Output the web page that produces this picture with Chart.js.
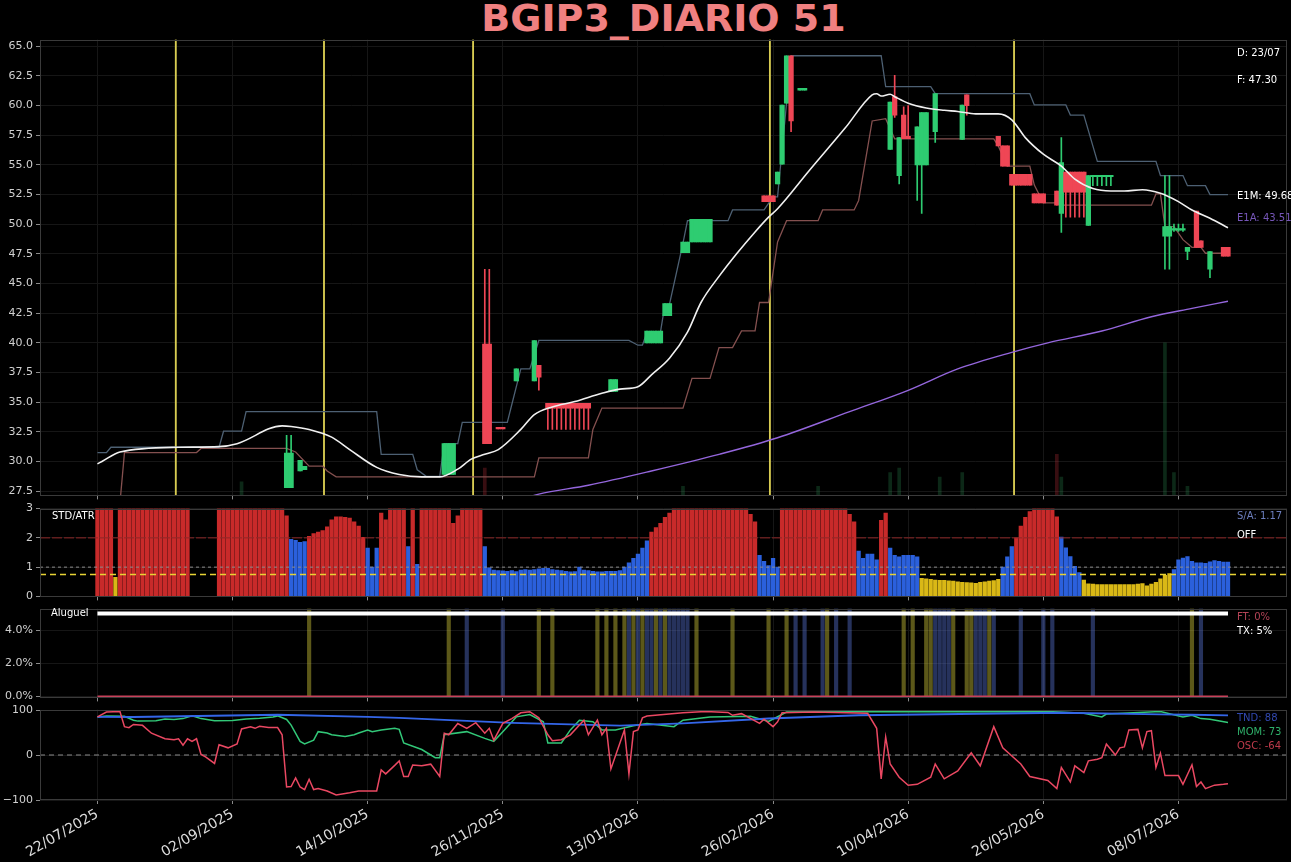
<!DOCTYPE html>
<html>
<head>
<meta charset="utf-8">
<script src="https://cdn.jsdelivr.net/npm/chart.js@4.4.1/dist/chart.umd.min.js"></script>
<style>
  body { margin: 0; background: #000; width: 1291px; height: 862px; overflow: hidden; position: relative; font-family: 'DejaVu Sans', sans-serif; }
  canvas { position: absolute; left: 0; }
  .t { position: absolute; font-size: 10px; color: #fff; white-space: nowrap; line-height: 12px; }
  #title { position: absolute; left: 40px; width: 1247px; top: -2px; text-align: center; font-weight: bold; font-size: 38px; line-height: 40px; color: #f08080; }
</style>
</head>
<body>
<div id="title">BGIP3_DIARIO 51</div>
<canvas id="cMain" width="1291" height="475" style="top:30px"></canvas>
<canvas id="cStd" width="1291" height="107" style="top:499px"></canvas>
<canvas id="cAlu" width="1291" height="108" style="top:599px"></canvas>
<canvas id="cOsc" width="1291" height="162" style="top:700px"></canvas>

<div class="t" style="left:1237px;top:47px">D: 23/07</div>
<div class="t" style="left:1237px;top:74px">F: 47.30</div>
<div class="t" style="left:1237px;top:190px">E1M: 49.68</div>
<div class="t" style="left:1237px;top:212px;color:#7656b8">E1A: 43.51</div>
<div class="t" style="left:52px;top:510px">STD/ATR</div>
<div class="t" style="left:1237px;top:510px;color:#6d7fbf">S/A: 1.17</div>
<div class="t" style="left:1237px;top:529px">OFF</div>
<div class="t" style="left:51px;top:607px">Aluguel</div>
<div class="t" style="left:1237px;top:611px;color:#b44457">FT: 0%</div>
<div class="t" style="left:1237px;top:625px">TX: 5%</div>
<div class="t" style="left:1237px;top:712px;color:#3148b0">TND: 88</div>
<div class="t" style="left:1237px;top:726px;color:#2fb06a">MOM: 73</div>
<div class="t" style="left:1237px;top:740px;color:#bd3a4a">OSC: -64</div>

<script>
// ---- x axis (trading-day index) ----
const X_MIN = -12.75, X_MAX = 264.1;
const xTickIdx = [0, 30, 60, 90, 120, 150, 180, 210, 240];
const xTickLabels = ['22/07/2025', '02/09/2025', '14/10/2025', '26/11/2025', '13/01/2026',
                     '26/02/2026', '10/04/2026', '26/05/2026', '08/07/2026'];

// ---- main panel ----
const MAIN_MIN = 27.14, MAIN_MAX = 65.56;
const mainTicks = [27.5, 30, 32.5, 35, 37.5, 40, 42.5, 45, 47.5, 50, 52.5, 55, 57.5, 60, 62.5, 65];

const candleIdx   = [42, 43, 45, 46, 77, 78, 79, 86, 87, 89, 90, 93, 97, 98,
                     100, 101, 102, 103, 104, 105, 106, 107, 108, 109, 114, 115,
                     122, 123, 124, 125, 126, 127, 130, 131, 132, 133, 134, 135, 136,
                     148, 149, 150, 151, 152, 153, 154, 156, 157,
                     176, 177, 178, 179, 180, 182, 183, 184, 186, 192, 193,
                     200, 201, 202, 203, 204, 205, 206, 207, 208, 209, 210, 213, 214,
                     215, 216, 217, 218, 219, 220, 221, 222, 223, 224, 225,
                     237, 238, 239, 240, 241, 242, 244, 245, 247, 250, 251];
const candleOpen  = [27.8, 27.8, 29.2, 29.3, 28.9, 28.9, 28.9, 39.9, 39.9, 32.85, 32.85, 36.8, 36.8, 38.1,
                     34.9, 34.9, 34.9, 34.9, 34.9, 34.9, 34.9, 34.9, 34.9, 34.9, 35.9, 35.9,
                     40.0, 40.0, 40.0, 40.0, 42.3, 42.3, 47.6, 47.6, 48.5, 48.5, 48.5, 48.5, 48.5,
                     52.4, 52.4, 52.4, 53.4, 55.05, 60.2, 64.2, 61.3, 61.3,
                     56.3, 60.75, 54.1, 59.2, 57.4, 55.0, 55.0, 55.0, 57.8, 57.15, 60.9,
                     57.4, 56.6, 56.6, 54.2, 54.2, 54.2, 54.2, 54.2, 52.55, 52.55, 52.55, 52.8, 50.9,
                     54.4, 54.4, 54.4, 54.4, 54.4, 49.9, 54.0, 54.0, 54.0, 54.0, 54.0,
                     49.0, 49.0, 49.5, 49.5, 49.5, 47.7, 51.1, 48.6, 46.2, 48.05, 48.05];
const candleHigh  = [32.2, 32.2, 30.1, 29.6, 31.5, 31.5, 31.5, 46.2, 46.2, 32.85, 32.85, 37.8, 40.2, 38.1,
                     34.9, 34.9, 34.9, 34.9, 34.9, 34.9, 34.9, 34.9, 34.9, 34.9, 36.9, 36.9,
                     41.0, 41.0, 41.0, 41.0, 43.3, 43.3, 48.5, 48.5, 50.4, 50.4, 50.4, 50.4, 50.4,
                     52.4, 52.4, 52.4, 54.4, 60.05, 64.2, 64.2, 61.45, 61.45,
                     60.3, 62.55, 57.3, 59.9, 60.0, 58.2, 59.4, 59.4, 61.0, 60.05, 60.9,
                     57.4, 56.6, 56.6, 54.2, 54.2, 54.2, 54.2, 54.2, 52.55, 52.55, 52.55, 52.8, 57.3,
                     54.4, 54.4, 54.4, 54.4, 54.4, 54.1, 54.1, 54.1, 54.1, 54.1, 54.1,
                     54.1, 54.1, 50.0, 50.0, 50.0, 48.05, 51.1, 48.6, 47.7, 48.05, 48.05];
const candleLow   = [27.8, 27.8, 29.2, 29.3, 28.9, 28.9, 28.9, 31.5, 31.5, 32.75, 32.75, 36.8, 36.8, 36.0,
                     32.7, 32.7, 32.7, 32.7, 32.7, 32.7, 32.7, 32.7, 32.7, 32.7, 35.9, 35.9,
                     40.0, 40.0, 40.0, 40.0, 42.3, 42.3, 47.6, 47.6, 48.5, 48.5, 48.5, 48.5, 48.5,
                     51.9, 51.9, 51.9, 53.4, 55.05, 60.2, 57.8, 61.3, 61.3,
                     56.3, 59.0, 53.4, 57.2, 57.2, 52.0, 50.9, 55.0, 56.9, 57.15, 59.2,
                     56.6, 54.9, 54.9, 53.3, 53.3, 53.3, 53.3, 53.3, 51.8, 51.8, 51.8, 51.6, 49.3,
                     50.6, 50.6, 50.6, 50.6, 50.6, 49.9, 53.25, 53.25, 53.25, 53.25, 53.25,
                     46.2, 46.2, 49.4, 49.4, 49.4, 47.0, 48.05, 48.05, 45.5, 47.3, 47.3];
const candleClose = [30.7, 30.7, 30.1, 29.6, 31.5, 31.5, 31.5, 31.5, 31.5, 32.75, 32.75, 37.8, 40.2, 37.1,
                     34.5, 34.5, 34.5, 34.5, 34.5, 34.5, 34.5, 34.5, 34.5, 34.5, 36.9, 36.9,
                     41.0, 41.0, 41.0, 41.0, 43.3, 43.3, 48.5, 48.5, 50.4, 50.4, 50.4, 50.4, 50.4,
                     51.9, 51.9, 51.9, 54.4, 60.05, 64.2, 58.7, 61.45, 61.45,
                     60.3, 59.2, 57.3, 57.2, 57.2, 58.2, 59.4, 59.4, 61.0, 60.05, 60.0,
                     56.6, 54.9, 54.9, 53.3, 53.3, 53.3, 53.3, 53.3, 51.8, 51.8, 51.8, 51.6, 55.2,
                     52.7, 52.7, 52.7, 52.7, 52.7, 54.1, 54.05, 54.05, 54.05, 54.05, 54.05,
                     49.8, 49.8, 49.55, 49.55, 49.55, 48.05, 48.05, 48.05, 47.7, 47.3, 47.3];

const upIdx = [0, 2, 3, 27, 28, 32, 33, 62, 63, 70, 71, 73, 76, 77, 80, 81, 91, 92, 94, 96,
               98, 118, 120, 121, 122, 125, 126, 127, 130, 131, 140, 141, 148, 150, 151, 154, 174, 175, 185, 186,
               207, 208, 215, 216, 219, 222, 235, 236, 241, 242, 246, 247, 251];
const upVal = [30.75, 30.75, 31.2, 31.2, 32.55, 32.55, 34.2, 34.2, 30.6, 30.6, 29.3, 28.75, 28.75, 31.5, 31.5, 33.3, 33.3, 34.8, 37.8, 37.8,
               40.2, 40.2, 39.8, 39.8, 40.9, 40.9, 43.25, 43.25, 48.4, 50.3, 50.3, 51.2, 51.2, 52.3, 52.3, 64.2, 64.2, 61.6, 61.6, 61.0,
               61.0, 60.05, 60.05, 59.2, 59.2, 55.3, 55.3, 54.1, 54.1, 53.25, 53.25, 52.5, 52.5];

const loIdx = [5, 6, 22, 23, 42, 44, 47, 50, 51, 53, 97, 98, 109, 110, 112, 130, 132, 136, 138, 141,
               143, 146, 147, 149, 151, 153, 160, 161, 168, 169, 172, 175, 177, 199, 200, 202, 207, 208, 210, 213,
               214, 234, 235, 236, 237, 239, 241, 243, 245, 246, 251];
const loVal = [26.5, 30.75, 30.75, 31.1, 31.1, 30.8, 29.6, 29.6, 29.2, 28.7, 28.7, 30.3, 30.3, 32.7, 34.5, 34.5, 37.0, 37.0, 39.6, 39.6,
               41.0, 41.0, 43.4, 43.4, 48.5, 50.3, 50.3, 51.2, 51.2, 52.0, 58.7, 58.9, 57.2, 57.2, 56.6, 54.9, 54.9, 53.3, 51.8, 51.8,
               51.6, 51.6, 52.55, 52.55, 49.8, 49.8, 48.7, 48.05, 48.05, 47.55, 47.55];

const e1mIdx = [0, 1, 5, 18, 27, 31, 41, 43, 47, 52, 56, 62, 67, 72, 76, 80, 83, 86, 89, 94,
                97, 101, 106, 112, 116, 120, 123, 127, 131, 134, 138, 142, 146, 149, 151, 158, 166, 172, 173, 174,
                176, 177, 180, 184, 188, 191, 195, 200, 203, 206, 210, 214, 217, 221, 225, 228, 232, 236, 240, 243,
                247, 251];
const e1mVal = [29.8, 30.0, 30.8, 31.2, 31.25, 31.5, 33.0, 32.95, 32.7, 32.05, 31.0, 29.5, 28.9, 28.7, 28.7, 29.35, 30.2, 30.6, 31.0, 32.7,
                33.95, 34.6, 35.05, 35.75, 36.1, 36.3, 37.3, 38.7, 40.9, 43.4, 45.6, 47.55, 49.35, 50.6, 51.3, 54.5, 58.1, 60.9, 61.0, 60.8,
                60.95, 60.75, 60.2, 59.8, 59.6, 59.5, 59.3, 59.3, 58.8, 57.3, 55.9, 54.9, 53.8, 53.0, 52.8, 52.8, 52.9, 52.6, 51.9, 51.2,
                50.5, 49.7];

const e1aIdx = [94, 98, 109, 123, 138, 151, 167, 180, 191, 203, 211, 223, 234, 243, 251];
const e1aVal = [26.8, 27.25, 28.0, 29.2, 30.6, 32.0, 34.2, 36.0, 37.8, 39.2, 40.0, 41.0, 42.2, 42.9, 43.5];

const eventIdx = [17.4, 50.3, 83.4, 149.3, 203.5];

const volIdx = [32, 86, 130, 160, 176, 178, 187, 192, 213, 214, 237, 239, 242];
const volVal = [0.03, 0.06, 0.02, 0.02, 0.05, 0.06, 0.04, 0.05, 0.09, 0.04, 0.335, 0.05, 0.02];
const volDir = ['g', 'r', 'g', 'g', 'g', 'g', 'g', 'g', 'r', 'g', 'g', 'g', 'g'];

// ---- STD/ATR panel ----
const stdTicks = [0, 1, 2, 3];
const stdVals = [
  3, 3, 3, 3, 0.65, 3, 3, 3, 3, 3, 3, 3, 3, 3, 3, 3, 3, 3, 3, 3,
  3, null, null, null, null, null, null, 3, 3, 3, 3, 3, 3, 3, 3, 3, 3, 3, 3, 3,
  3, 3, 2.75, 1.95, 1.92, 1.85, 1.87, 2.05, 2.15, 2.2, 2.25, 2.38, 2.62, 2.72, 2.72, 2.7, 2.68, 2.55, 2.4, 2.02,
  1.65, 1.0, 1.65, 2.85, 2.62, 3, 3, 3, 3, 1.7, 3, 1.1, 3, 3, 3, 3, 3, 3, 3, 2.5,
  2.75, 3, 3, 3, 3, 3, 1.7, 0.98, 0.9, 0.88, 0.87, 0.86, 0.88, 0.85, 0.9, 0.92, 0.9, 0.92, 0.94, 0.96,
  0.96, 0.92, 0.9, 0.88, 0.86, 0.84, 0.85, 1.0, 0.9, 0.88, 0.86, 0.84, 0.84, 0.86, 0.86, 0.86, 0.88, 1.0, 1.15, 1.3,
  1.45, 1.65, 1.9, 2.2, 2.35, 2.5, 2.7, 2.85, 3, 3, 3, 3, 3, 3, 3, 3, 3, 3, 3, 3,
  3, 3, 3, 3, 3, 2.8, 2.55, 1.4, 1.2, 1.05, 1.3, 1.0, 3, 3, 3, 3, 3, 3, 3, 3,
  3, 3, 3, 3, 3, 3, 3, 2.8, 2.55, 1.55, 1.3, 1.45, 1.45, 1.25, 2.6, 2.85, 1.65, 1.4, 1.35, 1.4,
  1.4, 1.4, 1.35, 0.62, 0.6, 0.58, 0.56, 0.55, 0.55, 0.53, 0.52, 0.5, 0.48, 0.47, 0.46, 0.45, 0.48, 0.5, 0.52, 0.54,
  0.58, 1.0, 1.35, 1.7, 2.0, 2.4, 2.7, 2.9, 3, 3, 3, 3, 3, 2.72, 2.03, 1.66, 1.36, 1.03, 0.81, 0.56,
  0.43, 0.42, 0.4, 0.4, 0.4, 0.4, 0.4, 0.4, 0.4, 0.4, 0.4, 0.42, 0.44, 0.36, 0.42, 0.48, 0.6, 0.72, 0.78, 0.92,
  1.25, 1.31, 1.36, 1.2, 1.15, 1.15, 1.13, 1.18, 1.22, 1.2, 1.17, 1.17
];
const stdCode =
  'rrrryrrrrrrrrrrrrrrr' +
  'r------rrrrrrrrrrrrr' +
  'rrrbbbbrrrrrrrrrrrrr' +
  'bbbrrrrrrbrbrrrrrrrr' +
  'rrrrrrbbbbbbbbbbbbbb' +
  'bbbbbbbbbbbbbbbbbbbb' +
  'bbbrrrrrrrrrrrrrrrrr' +
  'rrrrrrrbbbbbrrrrrrrr' +
  'rrrrrrrrrbbbbbrrbbbb' +
  'bbbyyyyyyyyyyyyyyyyy' +
  'ybbbrrrrrrrrrrbbbbby' +
  'yyyyyyyyyyyyyyyyyyyb' +
  'bbbbbbbbbbbb';
const stdLevels = [2, 1, 0.75];

// ---- Aluguel panel ----
const ALU_MIN = -0.06, ALU_MAX = 5.29;
const aluTicks = [0, 2, 4];
const aluYellowIdx = [47, 78, 98, 101, 111, 113, 115, 117, 119, 121, 124, 126, 133, 141, 149, 153, 162,
                      179, 181, 184, 185, 190, 193, 194, 198, 243];
const aluBlueIdx = [82, 90, 118, 120, 122, 123, 125, 127, 128, 129, 130, 131, 155, 157, 161, 164, 167,
                    186, 187, 188, 189, 195, 196, 197, 199, 205, 210, 212, 221, 245];
const txIdx = [0, 251];
const txVal = [5, 5];
const ftVal = [0, 0];

// ---- oscillator panel ----
const OSC_MIN = -100, OSC_MAX = 101;
const oscTicks = [-100, 0, 100];
const tndIdx = [0, 8, 40, 60, 67, 92, 116, 130, 149, 169, 214, 236, 243, 251];
const tndVal = [85, 84.5, 89.5, 85, 82.6, 71.7, 65.2, 70.3, 81.2, 88.4, 94, 90.6, 89.5, 88];
const momIdx = [0, 2, 6, 8, 9, 13, 15, 17, 19, 21, 23, 26, 30, 33, 36, 39, 40, 42, 43, 45,
                46, 48, 49, 51, 52, 55, 57, 58, 60, 61, 63, 66, 67, 68, 72, 75, 76, 77, 82, 86,
                88, 90, 93, 96, 99, 100, 103, 105, 107, 110, 112, 115, 119, 122, 128, 130, 136, 145, 149, 153,
                169, 211, 219, 223, 224, 236, 241, 243, 245, 247, 251];
const momVal = [84.8, 87, 86, 77.5, 75.4, 76, 80, 79, 81, 87, 81, 76, 77, 80, 82, 84.8, 87, 79, 66.6, 30.4,
                24.6, 33, 52, 49, 45, 41.3, 45, 49, 55.8, 52, 55.8, 59.4, 57, 26.8, 12.3, -5.8, -5.8, 45, 52, 37,
                30.4, 52, 84.8, 90, 74, 26.8, 26.8, 55.8, 77.5, 73.9, 55.8, 55.8, 65.2, 70.3, 63, 77.5, 84.8, 86, 74.6, 95.6,
                96.4, 97, 92.8, 84.8, 91, 97, 84.8, 88.4, 81, 79.7, 72.4];
const oscIdx = [0, 2, 5, 6, 7, 8, 10, 12, 15, 17, 18, 19, 20, 21, 22, 23, 24, 26, 27, 29,
                31, 32, 34, 35, 36, 38, 40, 41, 42, 43, 44, 45, 46, 47, 48, 49, 51, 53, 56, 58,
                62, 63, 64, 66, 67, 68, 69, 70, 72, 74, 76, 77, 78, 80, 82, 84, 86, 87, 88, 90,
                92, 94, 96, 98, 100, 101, 103, 105, 108, 109, 111, 112, 113, 114, 116, 117, 118, 119, 120, 121,
                122, 130, 135, 140, 141, 143, 147, 148, 150, 151, 152, 159, 171, 173, 174, 175, 176, 178, 180, 182,
                185, 186, 188, 191, 194, 196, 199, 201, 205, 207, 211, 213, 214, 216, 217, 219, 220, 222, 223, 224,
                226, 227, 228, 229, 231, 232, 233, 234, 235, 236, 237, 240, 241, 243, 244, 245, 246, 248, 250, 251];
const oscVal = [84.8, 95.6, 96.5, 63, 60.9, 68, 66, 48.5, 36.2, 34, 36.2, 21.7, 36, 30.4, 36.2, 1.4, -4.3, -18.8, 23, 16,
                24.6, 58, 63, 59.4, 64, 61, 61, 45, -71, -70, -50.7, -71, -76.8, -54, -76.8, -74.6, -80, -89, -84, -80,
                -80, -33, -42, -23, -13, -47.8, -48, -22.4, -24, -20.3, -47.8, 48.5, 45, 70, 59.4, 72, 48.5, 59.4, 33, 70.3,
                81, 94, 96.4, 82.6, 45, 32, 34, 45, 77.5, 45, 77.5, 45, 59.4, -31, 27, 55.8, -42, 52, 55.8, 82.6,
                86.7, 94, 97, 94.7, 88.4, 92, 70.3, 79.7, 63, 73.9, 94, 95.6, 92.8, 59.4, -52.9, 40, -20, -49.3, -67.4, -65.2,
                -49.3, -20, -52.9, -35.5, 5, -23.9, 63, 15.9, -20, -47.8, -56.5, -74.6, -27.5, -60, -24, -39, -13, -9.4, -5.8, 24.6,
                0, 16, 18, 55.8, 57, 16, 52, 54, -27.5, 4, -45.6, -45.6, -65, -21.7, -70, -60, -74.6, -67, -65.2, -64];

// ---------------------------------------------------------------
Chart.defaults.font.family = "'DejaVu Sans', sans-serif";
Chart.defaults.color = '#d0d0d0';
Chart.defaults.animation = false;
Chart.defaults.events = [];
Chart.defaults.plugins.legend.display = false;
Chart.defaults.plugins.tooltip.enabled = false;

const GRID = '#161616';
const UP = '#2ecc71', DOWN = '#ef4655';
const STD_COLORS = { r: '#c82a2a', b: '#2b60dc', y: '#d9b816' };

const pts = (xs, ys) => xs.map((x, k) => ({ x, y: ys[k] }));
const hline = (v) => [{ x: X_MIN, y: v }, { x: X_MAX, y: v }];

function xScale(showLabels, height) {
  return {
    type: 'linear', min: X_MIN, max: X_MAX, offset: false, bounds: 'data',
    grid: { color: GRID, offset: false, drawTicks: true, tickLength: 4, tickColor: '#8a8a8a' },
    border: { display: false },
    afterBuildTicks: s => { s.ticks = xTickIdx.map(v => ({ value: v })); },
    afterFit: s => { s.height = height; },
    ticks: {
      display: showLabels, autoSkip: false, maxRotation: 30, minRotation: 30,
      color: '#dcdcdc', font: { size: 14 }, padding: 2,
      callback: v => xTickLabels[xTickIdx.indexOf(v)]
    }
  };
}

function yScale(min, max, ticks, fmt) {
  return {
    type: 'linear', min, max, bounds: 'data',
    grid: { color: GRID, tickLength: 4, tickColor: '#8a8a8a' },
    border: { display: false },
    afterBuildTicks: s => { s.ticks = ticks.map(v => ({ value: v })); },
    afterFit: s => { s.width = 40; },
    ticks: { color: '#d0d0d0', font: { size: 11 }, padding: 3, callback: fmt }
  };
}

const frame = {
  id: 'frame',
  afterDraw(chart) {
    const { ctx, chartArea: a } = chart;
    ctx.save();
    ctx.strokeStyle = '#3a3a3a';
    ctx.lineWidth = 1;
    ctx.strokeRect(Math.round(a.left) + 0.5, Math.round(a.top) + 0.5, Math.round(a.width) - 1, Math.round(a.height) - 1);
    ctx.restore();
  }
};

function lineDs(data, color, width, order, extra) {
  return Object.assign({ type: 'line', data, borderColor: color, borderWidth: width, pointRadius: 0, tension: 0, order }, extra || {});
}

// ---- main price chart ----
const candleColors = candleIdx.map((_, k) => candleClose[k] >= candleOpen[k] ? UP : DOWN);
new Chart(document.getElementById('cMain'), {
  type: 'line',
  data: {
    datasets: [
      lineDs(pts(e1mIdx, e1mVal), '#f0f0f0', 1.6, 1, { cubicInterpolationMode: 'monotone' }),
      { type: 'bar', data: candleIdx.map((x, k) => ({ x, y: [candleOpen[k], candleClose[k]] })),
        backgroundColor: candleColors, barThickness: 4.6, minBarLength: 1.5, grouped: false, order: 2 },
      { type: 'bar', data: candleIdx.map((x, k) => ({ x, y: [candleLow[k], candleHigh[k]] })),
        backgroundColor: candleColors, barThickness: 1, grouped: false, order: 3 },
      lineDs(pts(e1aIdx, e1aVal), '#9466dc', 1.4, 4, { cubicInterpolationMode: 'monotone' }),
      lineDs(pts(upIdx, upVal), '#4d6073', 1.3, 5),
      lineDs(pts(loIdx, loVal), '#84504f', 1.3, 6),
      { type: 'bar', data: eventIdx.map(x => ({ x, y: [MAIN_MIN, MAIN_MAX] })),
        backgroundColor: '#d8cc52', barThickness: 1.2, grouped: false, order: 7 },
      { type: 'bar', yAxisID: 'yv', data: pts(volIdx, volVal),
        backgroundColor: volDir.map(d => d === 'g' ? 'rgba(46,160,90,0.25)' : 'rgba(200,50,60,0.28)'),
        barThickness: 3, grouped: false, order: 8 }
    ]
  },
  options: {
    responsive: false,
    layout: { padding: { top: 8, bottom: 8, left: 0, right: 4 } },
    scales: {
      x: xScale(false, 0),
      y: yScale(MAIN_MIN, MAIN_MAX, mainTicks, v => v.toFixed(1)),
      yv: { axis: 'y', display: false, min: 0, max: 1 }
    }
  },
  plugins: [frame]
});

// ---- STD/ATR chart ----
const stdData = [], stdBg = [];
stdVals.forEach((v, i) => {
  if (v === null) return;
  stdData.push({ x: i, y: v });
  stdBg.push(STD_COLORS[stdCode[i]]);
});
new Chart(document.getElementById('cStd'), {
  type: 'line',
  data: {
    datasets: [
      lineDs(hline(stdLevels[0]), '#8e2727', 1, 1, { borderDash: [10, 2] }),
      lineDs(hline(stdLevels[1]), '#8c8c8c', 1, 2, { borderDash: [3, 3] }),
      lineDs(hline(stdLevels[2]), '#e8d434', 1.5, 3, { borderDash: [6, 4] }),
      { type: 'bar', data: stdData, backgroundColor: stdBg, barThickness: 3.6, grouped: false, order: 5 }
    ]
  },
  options: {
    responsive: false,
    layout: { padding: { top: 8, bottom: 8, left: 0, right: 4 } },
    scales: {
      x: xScale(false, 0),
      y: yScale(0, 3, stdTicks, v => String(v))
    }
  },
  plugins: [frame]
});

// ---- Aluguel chart ----
new Chart(document.getElementById('cAlu'), {
  type: 'line',
  data: {
    datasets: [
      lineDs(pts(txIdx, txVal), '#ffffff', 4, 1),
      lineDs(pts(txIdx, ftVal), '#c8415a', 2, 2),
      { type: 'bar', data: aluYellowIdx.map(x => ({ x, y: [ALU_MIN, ALU_MAX] })),
        backgroundColor: 'rgba(205,195,55,0.45)', barThickness: 3.5, grouped: false, order: 4 },
      { type: 'bar', data: aluBlueIdx.map(x => ({ x, y: [ALU_MIN, ALU_MAX] })),
        backgroundColor: 'rgba(90,120,220,0.42)', barThickness: 3.5, grouped: false, order: 5 }
    ]
  },
  options: {
    responsive: false,
    layout: { padding: { top: 8, bottom: 8, left: 0, right: 4 } },
    scales: {
      x: xScale(false, 0),
      y: yScale(ALU_MIN, ALU_MAX, aluTicks, v => v.toFixed(1) + '%')
    }
  },
  plugins: [frame]
});

// ---- oscillator chart ----
new Chart(document.getElementById('cOsc'), {
  type: 'line',
  data: {
    datasets: [
      lineDs(pts(oscIdx, oscVal), '#ea4862', 1.5, 1),
      lineDs(pts(tndIdx, tndVal), '#3466e8', 1.8, 2),
      lineDs(pts(momIdx, momVal), '#32c878', 1.5, 3),
      lineDs(hline(0), '#8a8a8a', 1.2, 4, { borderDash: [5, 4] })
    ]
  },
  options: {
    responsive: false,
    layout: { padding: { top: 8, bottom: 0, left: 0, right: 4 } },
    scales: {
      x: xScale(true, 62),
      y: yScale(OSC_MIN, OSC_MAX, oscTicks, v => v < 0 ? '\u2212' + Math.abs(v) : String(v))
    }
  },
  plugins: [frame]
});
</script>
</body>
</html>
